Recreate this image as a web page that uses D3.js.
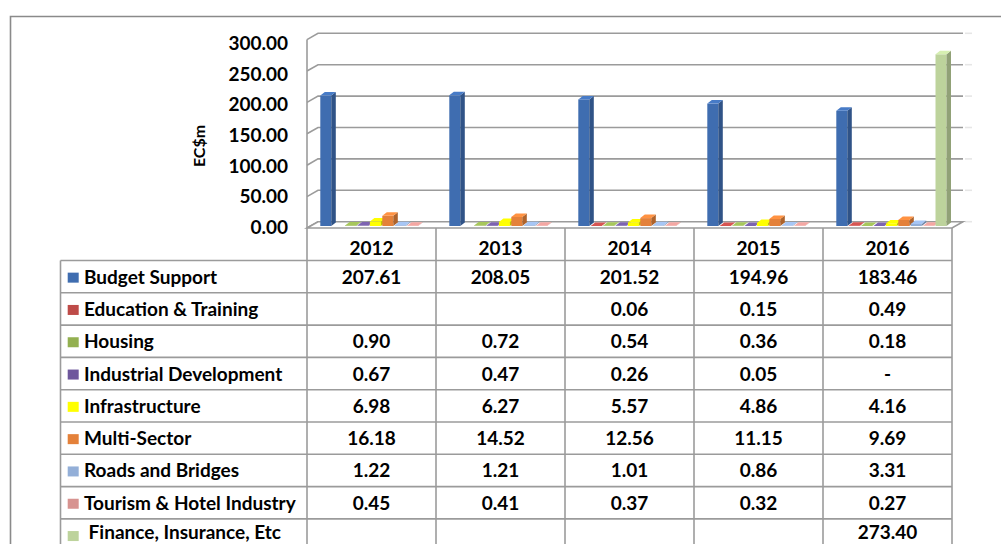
<!DOCTYPE html>
<html>
<head>
<meta charset="utf-8">
<script src="https://cdn.jsdelivr.net/npm/d3@7"></script>
<style>
  html, body { margin: 0; padding: 0; background: #fff; }
  svg { display: block; }
  text { font-family: Lato, "Open Sans", sans-serif; font-weight: bold; fill: #000; }
</style>
</head>
<body>
<svg id="chart" width="1001" height="544"></svg>
<script>
// ---------------- DATA ----------------
const years = ["2012", "2013", "2014", "2015", "2016"];
const seriesNames = [
  "Budget Support", "Education & Training", "Housing", "Industrial Development",
  "Infrastructure", "Multi-Sector", "Roads and Bridges", "Tourism & Hotel Industry",
  " Finance, Insurance, Etc"
];
const budgetSupport        = [207.61, 208.05, 201.52, 194.96, 183.46];
const educationTraining    = [null, null, 0.06, 0.15, 0.49];
const housing              = [0.90, 0.72, 0.54, 0.36, 0.18];
const industrialDevelopment= [0.67, 0.47, 0.26, 0.05, 0];
const infrastructure       = [6.98, 6.27, 5.57, 4.86, 4.16];
const multiSector          = [16.18, 14.52, 12.56, 11.15, 9.69];
const roadsBridges         = [1.22, 1.21, 1.01, 0.86, 3.31];
const tourismHotel         = [0.45, 0.41, 0.37, 0.32, 0.27];
const financeInsurance     = [null, null, null, null, 273.40];
const seriesColors = ["#3f6db0", "#be4b48", "#93b050", "#6e579c", "#ffff00",
                      "#e4813a", "#93afd8", "#d79390", "#bdd39c"];
const yTicks = [0, 50, 100, 150, 200, 250, 300];
const yAxisTitle = "EC$m";

const seriesValues = [budgetSupport, educationTraining, housing, industrialDevelopment,
  infrastructure, multiSector, roadsBridges, tourismHotel, financeInsurance];

// ---------------- LAYOUT ----------------
const svg = d3.select("#chart");
const W = 1001, H = 544;
const left = 307, right = 952;
const floorFront = 228, depthX = 11, depthY = 6.3;
const backBase = floorFront - depthY;

const x0 = d3.scaleBand().domain(years).range([left, right]).padding(0);
const x1 = d3.scaleBand().domain(seriesNames).range([13.3, 13.3 + 9 * 12.4]).padding(0);
const barW = 11, bdx = 4.5, bdy = 3.5;

const yBack  = d3.scaleLinear().domain([0, 300]).range([backBase, backBase - 188.4]);
const yBar   = d3.scaleLinear().domain([0, 300]).range([226, 226 - 188.4]);
const yFront = d3.scaleLinear().domain([0, 300]).range([227.3, 43.6]);

// outer frame
svg.append("rect").attr("x", 0).attr("y", 0).attr("width", W).attr("height", H).attr("fill", "#fff");
svg.append("path")
  .attr("d", `M10.5,${H + 5} L10.5,16.5 L${W + 5},16.5`)
  .attr("fill", "none").attr("stroke", "#8a8a8a").attr("stroke-width", 1.6);

const grid = svg.append("g").attr("stroke", "#9b9b9b").attr("stroke-width", 1.6).attr("fill", "none");
// back wall gridlines + left wall diagonals
yTicks.forEach(t => {
  const y = yBack(t);
  grid.append("path").attr("d", `M${left},${y + depthY} L${left + depthX},${y} L${right + depthX},${y}`);
  grid.append("line").attr("x1", right + depthX + 2).attr("x2", right + depthX + 9)
    .attr("y1", y).attr("y2", y).attr("stroke", "#e6e6e6");
});
// left wall front edge
grid.append("line").attr("x1", left).attr("x2", left)
  .attr("y1", yBack(300) + depthY).attr("y2", floorFront);
// floor
grid.append("path")
  .attr("d", `M${left},${floorFront} L${left + depthX},${backBase} L${right + depthX},${backBase} L${right},${floorFront} Z`)
  .attr("fill", "#fff");

// y axis labels
const yAxis = d3.axisLeft(yFront).tickValues(yTicks).tickFormat(d3.format(".2f"))
  .tickSize(0).tickPadding(19);
const gAxis = svg.append("g").attr("transform", `translate(${left},0)`).call(yAxis);
gAxis.select(".domain").remove();
gAxis.selectAll("text").attr("font-size", 19).attr("font-family", "Lato, sans-serif")
  .attr("font-weight", "bold").attr("fill", "#000");

svg.append("text")
  .attr("transform", "translate(205,146) rotate(-90)")
  .attr("text-anchor", "middle").attr("font-size", 16)
  .text(yAxisTitle);

// ---------------- 3D BARS ----------------
const bars = svg.append("g");
years.forEach((yr, yi) => {
  seriesNames.forEach((s, si) => {
    const v = seriesValues[si][yi];
    if (v === null) return;
    const bx = x0(yr) + x1(s);
    const yt = yBar(v), yb = yBar(0);
    const c = d3.color(seriesColors[si]);
    const side = c.darker(0.75), top = c.brighter(0.35);
    bars.append("rect").attr("x", bx).attr("y", yt).attr("width", barW).attr("height", yb - yt)
      .attr("fill", c);
    bars.append("path")
      .attr("d", `M${bx + barW},${yt} L${bx + barW + bdx},${yt - bdy} L${bx + barW + bdx},${yb - bdy} L${bx + barW},${yb} Z`)
      .attr("fill", side);
    bars.append("path")
      .attr("d", `M${bx},${yt} L${bx + bdx},${yt - bdy} L${bx + barW + bdx},${yt - bdy} L${bx + barW},${yt} Z`)
      .attr("fill", top);
  });
});

// ---------------- DATA TABLE ----------------
const tableLeft = 60.5, rowTop = 260.5, rowH = 32.3;
const rowY = d3.scaleBand().domain(seriesNames)
  .range([rowTop, rowTop + rowH * seriesNames.length]).padding(0);
const tbl = svg.append("g");
const lineC = "#9b9b9b";
// horizontal lines
seriesNames.forEach(s => {
  tbl.append("line").attr("x1", tableLeft).attr("x2", right)
    .attr("y1", rowY(s)).attr("y2", rowY(s)).attr("stroke", lineC).attr("stroke-width", 1.6);
});
// vertical lines
tbl.append("line").attr("x1", tableLeft).attr("x2", tableLeft).attr("y1", rowTop).attr("y2", H + 5)
  .attr("stroke", lineC).attr("stroke-width", 1.6);
x0.domain().concat(["__end"]).forEach((yr, i) => {
  const xx = left + i * x0.step();
  tbl.append("line").attr("x1", xx).attr("x2", xx).attr("y1", floorFront).attr("y2", H + 5)
    .attr("stroke", lineC).attr("stroke-width", 1.6);
});
// header years
years.forEach(yr => {
  tbl.append("text").attr("x", x0(yr) + x0.bandwidth() / 2).attr("y", 255)
    .attr("text-anchor", "middle").attr("font-size", 19).text(yr);
});
// rows
const fmt = d3.format(".2f");
seriesNames.forEach((s, si) => {
  const cy = rowY(s) + rowH / 2;
  const last = si === seriesNames.length - 1;
  const ty = last ? cy + 4 : cy + 7;
  tbl.append("rect").attr("x", 67.7).attr("y", cy - 4).attr("width", 11).attr("height", 10)
    .attr("fill", seriesColors[si]);
  tbl.append("text").attr("x", 84).attr("y", ty).attr("font-size", 19)
    .style("white-space", "pre").text(s);
  years.forEach((yr, yi) => {
    const v = seriesValues[si][yi];
    if (v === null) return;
    tbl.append("text").attr("x", x0(yr) + x0.bandwidth() / 2).attr("y", ty)
      .attr("text-anchor", "middle").attr("font-size", 19)
      .text(v === 0 ? "-" : fmt(v));
  });
});
</script>
</body>
</html>
